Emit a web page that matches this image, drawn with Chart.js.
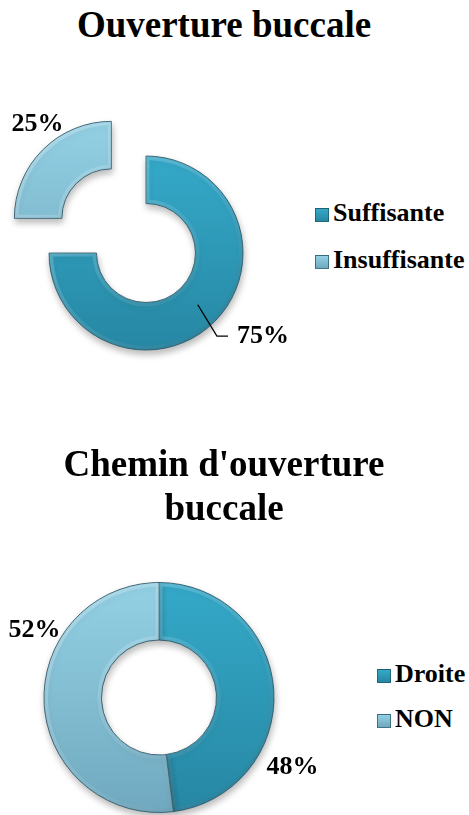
<!DOCTYPE html>
<html>
<head>
<meta charset="utf-8">
<script src="https://cdn.jsdelivr.net/npm/chart.js@4.4.1/dist/chart.umd.min.js"></script>
<style>
  html, body { margin: 0; padding: 0; background: #fff; overflow: hidden; }
  body { font-family: 'Liberation Serif'; font-weight: bold; color: #000; }
  #page { position: relative; width: 469px; height: 815px; overflow: hidden; }
  canvas { position: absolute; }
  #ouvertureChart { left: -20px; top: 60px; }
  #cheminChart { left: -10px; top: 580px; }
  .chart-title {
    position: absolute; left: 0; width: 448px; margin: 0; text-align: center;
    font-size: 37px; line-height: 44px;
  }
  #title1 { top: 2.5px; }
  #title2 { top: 441.5px; }
  .legend { position: absolute; margin: 0; padding: 0; list-style: none; font-size: 26px; }
  .legend li { position: relative; height: 30px; line-height: 30px; padding-left: 18px; white-space: nowrap; }
  .legend .box {
    position: absolute; left: 0; top: 10px; width: 14px; height: 14px; box-sizing: border-box;
    border: 1px solid rgba(30, 80, 95, 0.7);
  }
  #legend1 { left: 315px; top: 198px; }
  #legend1 li + li { margin-top: 17px; }
  #legend2 { left: 377px; top: 659px; }
  #legend2 li + li { margin-top: 15px; }
</style>
</head>
<body>
<div id="page">
  <div class="chart-title" id="title1">Ouverture buccale</div>
  <canvas id="ouvertureChart" width="332" height="386"></canvas>
  <ul class="legend" id="legend1"></ul>

  <div class="chart-title" id="title2">Chemin d'ouverture<br>buccale</div>
  <canvas id="cheminChart" width="338" height="235"></canvas>
  <ul class="legend" id="legend2"></ul>
</div>

<script>
// Ouverture buccale
const ouvertureCategories = ['Suffisante', 'Insuffisante'];
const ouvertureValues = [75, 25];

// Chemin d'ouverture buccale
const cheminCategories = ['Droite', 'NON'];
const cheminValues = [48, 52];

// Slice shading: darker teal first, pale blue second
const shades = [
  { top: '#35A9C9', bottom: '#2687A3' },
  { top: '#94D1E5', bottom: '#70A9BF' }
];

const labelFont = "bold 26px 'Liberation Serif'";

// Vertical gradient across the ring for each slice
function sliceFill(context) {
  const chart = context.chart;
  const shade = shades[context.dataIndex % shades.length];
  const area = chart.chartArea;
  if (!area) return shade.bottom;
  const r = chart.options.radius;
  const cy = (area.top + area.bottom) / 2;
  const g = chart.ctx.createLinearGradient(0, cy - r, 0, cy + r);
  g.addColorStop(0, shade.top);
  g.addColorStop(1, shade.bottom);
  return g;
}

// Soft drop shadow under the rings
const softShadow = {
  id: 'softShadow',
  beforeDatasetsDraw(chart) {
    const c = chart.ctx;
    c.save();
    c.shadowColor = 'rgba(0, 0, 0, 0.28)';
    c.shadowBlur = 7;
    c.shadowOffsetX = 1;
    c.shadowOffsetY = 4;
  },
  afterDatasetsDraw(chart) {
    chart.ctx.restore();
  }
};

// Light rounded-bevel sheen along the edges of every slice
const bevel = {
  id: 'bevel',
  afterDatasetsDraw(chart) {
    const c = chart.ctx;
    chart.getDatasetMeta(0).data.forEach((arc) => {
      const shift = (arc.options.offset || 0) / 4;
      const mid = (arc.startAngle + arc.endAngle) / 2;
      const x = arc.x + Math.cos(mid) * shift;
      const y = arc.y + Math.sin(mid) * shift;
      c.save();
      c.beginPath();
      c.arc(x, y, arc.outerRadius - 0.5, arc.startAngle, arc.endAngle);
      c.arc(x, y, arc.innerRadius + 0.5, arc.endAngle, arc.startAngle, true);
      c.closePath();
      c.clip();
      const g = c.createLinearGradient(x - arc.outerRadius, y - arc.outerRadius, x + arc.outerRadius, y + arc.outerRadius);
      g.addColorStop(0, 'rgba(255, 255, 255, 0.30)');
      g.addColorStop(0.5, 'rgba(255, 255, 255, 0.10)');
      g.addColorStop(1, 'rgba(0, 40, 60, 0.18)');
      c.strokeStyle = g;
      c.lineWidth = 7;
      c.stroke();
      c.restore();
    });
  }
};

// Percentage labels placed around each ring, optionally with a leader line
const valueLabels = {
  id: 'valueLabels',
  afterDraw(chart, args, opts) {
    const meta = chart.getDatasetMeta(0);
    const values = chart.data.datasets[0].data;
    const c = chart.ctx;
    c.save();
    c.font = labelFont;
    c.fillStyle = '#000';
    c.strokeStyle = '#000';
    c.lineWidth = 1.3;
    c.textBaseline = 'middle';
    meta.data.forEach((arc, i) => {
      const p = opts.placements[i];
      const text = values[i] + '%';
      const a = (p.angle - 90) * Math.PI / 180;
      const px = arc.x + Math.cos(a) * p.dist * arc.outerRadius;
      const py = arc.y + Math.sin(a) * p.dist * arc.outerRadius;
      if (p.leader) {
        const mid = (arc.startAngle + arc.endAngle) / 2;
        const rm = (arc.innerRadius + arc.outerRadius) / 2;
        c.beginPath();
        c.moveTo(arc.x + Math.cos(mid) * rm, arc.y + Math.sin(mid) * rm);
        c.lineTo(px, py);
        c.lineTo(px + p.leader, py);
        c.stroke();
        c.textAlign = 'left';
        c.fillText(text, px + p.leader + 9, py);
      } else {
        c.textAlign = 'center';
        c.fillText(text, px, py);
      }
    });
    c.restore();
  }
};

// Legend written as HTML list from the chart's own labels
const htmlLegend = {
  id: 'htmlLegend',
  afterUpdate(chart, args, opts) {
    const list = document.getElementById(opts.containerID);
    list.innerHTML = '';
    chart.data.labels.forEach((label, i) => {
      const shade = shades[i % shades.length];
      const li = document.createElement('li');
      const box = document.createElement('span');
      box.className = 'box';
      box.style.background = 'linear-gradient(' + shade.top + ', ' + shade.bottom + ')';
      li.appendChild(box);
      li.appendChild(document.createTextNode(label));
      list.appendChild(li);
    });
  }
};

function ringChart(canvasId, categories, values, cfg) {
  return new Chart(document.getElementById(canvasId), {
    type: 'doughnut',
    data: {
      labels: categories,
      datasets: [{
        data: values,
        backgroundColor: sliceFill,
        borderColor: 'rgba(45, 85, 100, 0.85)',
        borderWidth: 1,
        offset: cfg.offset,
        hoverOffset: 0
      }]
    },
    options: {
      responsive: false,
      animation: false,
      events: [],
      radius: cfg.radius,
      cutout: cfg.cutout,
      layout: { padding: 0 },
      plugins: {
        legend: { display: false },
        tooltip: { enabled: false },
        title: { display: false },
        valueLabels: { placements: cfg.placements },
        htmlLegend: { containerID: cfg.legendId }
      }
    },
    plugins: [softShadow, bevel, valueLabels, htmlLegend]
  });
}

ringChart('ouvertureChart', ouvertureCategories, ouvertureValues, {
  radius: 97,
  cutout: '51%',
  offset: [0, 196],
  legendId: 'legend1',
  placements: [
    { angle: 139.5, dist: 1.126, leader: 11 },
    { angle: 319.9, dist: 1.736 }
  ]
});

ringChart('cheminChart', cheminCategories, cheminValues, {
  radius: 115,
  cutout: '50%',
  offset: [0, 0],
  legendId: 'legend2',
  placements: [
    { angle: 117.6, dist: 1.31 },
    { angle: 298.4, dist: 1.231 }
  ]
});
</script>
</body>
</html>
